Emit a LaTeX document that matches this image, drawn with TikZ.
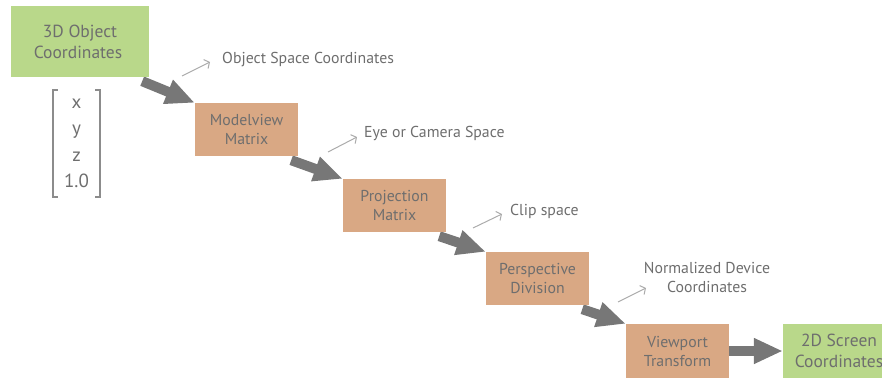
\documentclass[tikz,border=0pt]{standalone}
\usepackage{fontspec}
\setmainfont{PT Sans}
\usetikzlibrary{arrows.meta,backgrounds}
\definecolor{boxgreen}{HTML}{B9D88A}
\definecolor{boxorange}{HTML}{D9A884}
\definecolor{txtgray}{HTML}{6E6E6E}
\definecolor{arrgray}{HTML}{777777}
\definecolor{thingray}{HTML}{ABABAB}
\definecolor{brkgray}{HTML}{8C8C8C}
\begin{document}
\begin{tikzpicture}[x=1pt,y=-1pt,
  box/.style={rectangle, inner sep=0pt, align=center, text=txtgray},
  greenbox/.style={box, fill=boxgreen, font=\fontsize{17.5}{21}\selectfont},
  orangebox/.style={box, fill=boxorange, minimum width=103pt, minimum height=53pt, font=\fontsize{15.8}{19}\selectfont},
  bigarrow/.style={draw=arrgray, line width=10pt, -{Triangle[length=29pt,width=24pt,fill=arrgray]}},
  thinarrow/.style={draw=thingray, line width=1pt, -{Straight Barb[length=4pt,width=10pt]}},
  lbl/.style={text=txtgray, font=\fontsize{15.8}{19}\selectfont, inner sep=0pt, align=center},
  bracket/.style={draw=brkgray, line width=1.5pt}]
\useasboundingbox (0,0) rectangle (882,379);
\clip (0,0) rectangle (882,379);

% boxes
\node[greenbox, minimum width=138pt, minimum height=71pt, inner xsep=0pt] (b1) at (80,41.5) {3D Object\\Coordinates\hspace*{4pt}};
\node[orangebox] (b2) at (246.5,129.5) {Modelview\\Matrix};
\node[orangebox] (b3) at (394.5,205.5) {Projection\\Matrix};
\node[orangebox] (b4) at (537.5,278.5) {Perspective\\Division};
\node[orangebox, minimum height=54pt] (b5) at (677.5,351) {Viewport\\Transform};
\node[greenbox, minimum width=112pt, minimum height=54pt] (b6) at (839,351) {2D Screen\\Coordinates};

% vector
\node[box, minimum width=47pt, minimum height=107pt, font=\fontsize{19}{26.5}\selectfont] (vec) at (76.5,143.5) {x\\y\\z\\1.0};
\draw[bracket] ([xshift=5pt]vec.north west) -- (vec.north west) -- (vec.south west) -- ([xshift=5pt]vec.south west);
\draw[bracket] ([xshift=-5pt]vec.north east) -- (vec.north east) -- (vec.south east) -- ([xshift=-5pt]vec.south east);

% thick arrows
\begin{scope}[on background layer]
\draw[bigarrow] ([xshift=-7pt,yshift=-4pt]b1.south east) -- (b2.north west);
\draw[bigarrow] ([xshift=-7pt,yshift=-4pt]b2.south east) -- (b3.north west);
\draw[bigarrow] ([xshift=-7pt,yshift=-4pt]b3.south east) -- (b4.north west);
\draw[bigarrow] ([xshift=-7pt,yshift=-4pt]b4.south east) -- (b5.north west);
\end{scope}
\draw[bigarrow] (b5.east) -- (b6.west);

% thin arrows and labels
\node[lbl, anchor=west] (l1) at (222,60) {Object Space Coordinates};
\node[lbl, anchor=west] (l2) at (364,133) {Eye or Camera Space};
\node[lbl, anchor=west] (l3) at (510,211) {Clip space};
\node[lbl] (l4) at (707,277) {Normalized Device\\Coordinates};
\coordinate (s1) at (182,76);  \coordinate (e1) at (210,62);
\coordinate (s2) at (328,152); \coordinate (e2) at (357,137);
\coordinate (s3) at (473,228); \coordinate (e3) at (502,214);
\coordinate (s4) at (618,302); \coordinate (e4) at (646,288);
\draw[thinarrow] (s1) -- (e1);
\draw[thinarrow] (s2) -- (e2);
\draw[thinarrow] (s3) -- (e3);
\draw[thinarrow] (s4) -- (e4);
\end{tikzpicture}
\end{document}
